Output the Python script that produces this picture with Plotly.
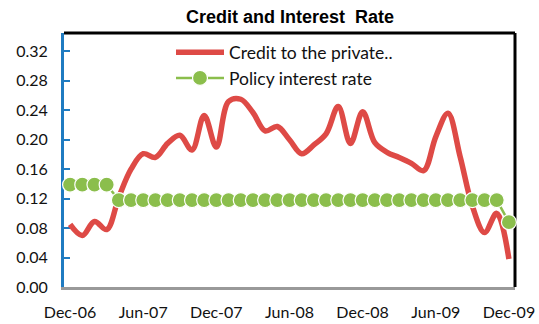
import pandas as pd
import plotly.graph_objects as go

# Monthly categories, Dec-2006 .. Dec-2009
months = list(pd.date_range("2006-12-01", "2009-12-01", freq="MS").strftime("%b-%y"))

# Growth of credit to the private sector (share)
credit = [
    0.085, 0.070, 0.089, 0.078, 0.122, 0.160, 0.181, 0.176, 0.195, 0.206,
    0.186, 0.233, 0.190, 0.252, 0.255, 0.237, 0.212, 0.218, 0.200, 0.181,
    0.193, 0.208, 0.245, 0.195, 0.238, 0.196, 0.183, 0.176, 0.168, 0.158,
    0.204, 0.236, 0.177, 0.110, 0.074, 0.100, 0.038,
]

# Central bank policy rate
policy = [0.139] * 4 + [0.118] * 32 + [0.088]

tick_labels = ["Dec-06", "Jun-07", "Dec-07", "Jun-08", "Dec-08", "Jun-09", "Dec-09"]
y_ticks = [0.00, 0.04, 0.08, 0.12, 0.16, 0.20, 0.24, 0.28, 0.32]

RED = "#DE4A46"
GREEN = "#8BBE4C"
FONT = "Lato"

fig = go.Figure()
fig.add_trace(go.Scatter(
    x=months, y=credit, name="Credit to the private..",
    mode="lines", line=dict(color=RED, width=5.5, shape="spline", smoothing=1.0),
    cliponaxis=False,
))
fig.add_trace(go.Scatter(
    x=months, y=policy, name="Policy interest rate",
    mode="lines+markers", line=dict(color=GREEN, width=2.5),
    marker=dict(symbol="circle", size=15, color=GREEN, line=dict(color="white", width=1.2)),
    cliponaxis=False,
))

# black frame on the top and right of the plotting area
fig.add_shape(type="line", xref="paper", yref="paper", x0=0, x1=1, y0=1, y1=1,
              line=dict(color="black", width=3), layer="below")
fig.add_shape(type="line", xref="paper", yref="paper", x0=1, x1=1, y0=0, y1=1,
              line=dict(color="black", width=3), layer="below")

fig.update_layout(
    width=539, height=324,
    margin=dict(l=64, r=24, t=33, b=37, autoexpand=False),
    paper_bgcolor="white", plot_bgcolor="white",
    title=dict(text="<b>Credit and Interest  Rate</b>", x=290 / 539, xanchor="center",
               y=1 - 17 / 324, yanchor="middle",
               font=dict(family="Liberation Sans", size=18, color="black")),
    showlegend=True,
    legend=dict(x=(171 - 64) / 451, y=0.995, xanchor="left", yanchor="top",
                bgcolor="rgba(0,0,0,0)", itemwidth=48,
                font=dict(family=FONT, size=17.5, color="#111"),
                tracegroupgap=0),
    xaxis=dict(
        type="category", categoryorder="array", categoryarray=months,
        range=[-0.5, len(months) - 0.5], automargin=False,
        tickmode="array", tickvals=tick_labels, ticktext=tick_labels,
        showgrid=False, zeroline=False, ticks="", ticklabelstandoff=9,
        showline=True, linecolor="#999999", linewidth=3, layer="below traces",
        tickfont=dict(family=FONT, size=16, color="#111"),
    ),
    yaxis=dict(
        range=[0, 0.345], tickmode="array", tickvals=y_ticks, tickformat=".2f",
        showgrid=False, zeroline=False, automargin=False,
        ticks="inside", ticklen=6, tickwidth=2, tickcolor="#1F7BC1",
        showline=True, linecolor="#1F7BC1", linewidth=3, layer="below traces",
        ticklabelstandoff=10,
        tickfont=dict(family=FONT, size=16, color="#111"),
    ),
)

fig.write_html("out.html")
